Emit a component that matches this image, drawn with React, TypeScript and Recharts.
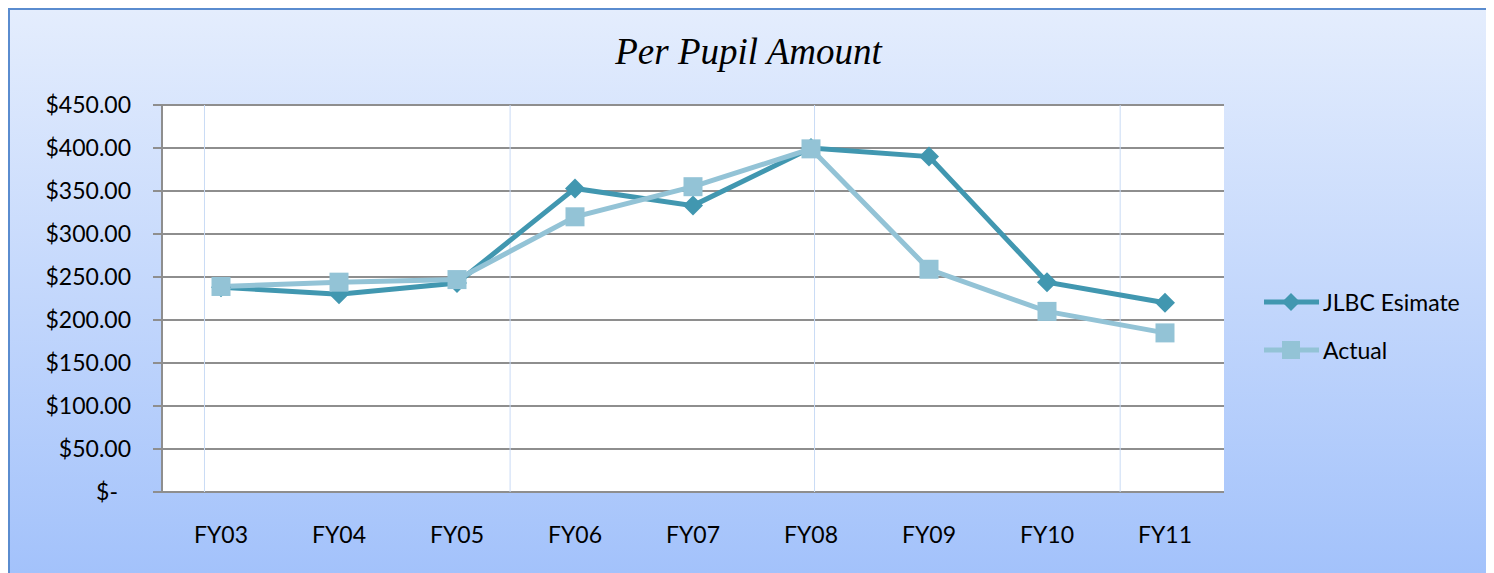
import { CartesianGrid, Legend, Line, LineChart, ReferenceLine, XAxis, YAxis } from 'recharts';

const years = ['FY03', 'FY04', 'FY05', 'FY06', 'FY07', 'FY08', 'FY09', 'FY10', 'FY11'];
const jlbcEstimate = [238, 230, 243, 353, 333, 400, 390, 244, 220];
const actual = [239, 244, 247, 320, 355, 399, 259, 210, 185];
const yTicks = [0, 50, 100, 150, 200, 250, 300, 350, 400, 450];
const edgeTicks = [0, 1, 2, 3, 4, 5, 6, 7, 8, 9];
const glossLines = [0.36, 2.95, 5.53, 8.12];

const DARK = '#4197b0';
const LIGHT = '#93c3d6';
const GRID = '#8e8e8e';
const LABEL_FONT = 'Lato, "Liberation Sans", sans-serif';

const rows = years.map((year, i) => ({ year, jlbc: jlbcEstimate[i], actual: actual[i] }));

const formatDollar = (v: number) => (v === 0 ? '$-' : `$${v.toFixed(2)}`);

function DiamondDot(props: any) {
  const { cx, cy, index } = props;
  if (cx == null || cy == null) return null;
  const s = 10;
  return (
    <polygon
      key={`d-${index}`}
      points={`${cx},${cy - s} ${cx + s},${cy} ${cx},${cy + s} ${cx - s},${cy}`}
      fill={DARK}
    />
  );
}

function SquareDot(props: any) {
  const { cx, cy, index } = props;
  if (cx == null || cy == null) return null;
  const s = 19;
  return <rect key={`s-${index}`} x={cx - s / 2} y={cy - s / 2} width={s} height={s} fill={LIGHT} />;
}

function YTick(props: any) {
  const { x, y, payload } = props;
  const v = payload.value as number;
  return (
    <text
      x={v === 0 ? x - 13 : x}
      y={y}
      dy='0.35em'
      textAnchor='end'
      fontFamily={LABEL_FONT}
      fontSize={23}
      fill='#000'
    >
      {formatDollar(v)}
    </text>
  );
}

function LegendBox() {
  const items = [
    { name: 'JLBC Esimate', color: DARK, shape: 'diamond' },
    { name: 'Actual', color: LIGHT, shape: 'square' },
  ];
  return (
    <div>
      {items.map((item) => (
        <div key={item.name} style={{ display: 'flex', alignItems: 'center', height: 48 }}>
          <svg width={58} height={24} style={{ marginRight: 2 }}>
            <line x1={1} y1={12} x2={56} y2={12} stroke={item.color} strokeWidth={5} />
            {item.shape === 'diamond' ? (
              <polygon points='28,3 37,12 28,21 19,12' fill={item.color} />
            ) : (
              <rect x={19} y={3} width={18} height={18} fill={item.color} />
            )}
          </svg>
          <span style={{ fontFamily: LABEL_FONT, fontSize: 23, color: '#000' }}>{item.name}</span>
        </div>
      ))}
    </div>
  );
}

export default function App() {
  return (
    <div
      style={{
        position: 'relative',
        width: 1481,
        height: 565,
        boxSizing: 'border-box',
        borderTop: '2px solid #5a8ccf',
        borderLeft: '2px solid #5a8ccf',
        borderRight: '2px solid #5a8ccf',
        background: 'linear-gradient(#e4edfd, #a3c2fb)',
      }}
    >
      <div
        style={{
          position: 'absolute',
          left: 0,
          top: 20,
          width: 1477,
          height: 44,
          lineHeight: '44px',
          textAlign: 'center',
          fontFamily: '"Liberation Serif", serif',
          fontStyle: 'italic',
          fontSize: 37,
          color: '#000',
        }}
      >
        Per Pupil Amount
      </div>
      <div style={{ position: 'absolute', left: 0, top: 0 }}>
        <LineChart width={1477} height={563} data={rows} margin={{ top: 95, right: 263, left: 40, bottom: 0 }}>
          <CartesianGrid
            vertical={false}
            horizontal
            fill='#ffffff'
            stroke={GRID}
            strokeWidth={2}
            strokeOpacity={1}
          />
          <XAxis
            xAxisId='edges'
            type='number'
            dataKey={(d: any) => years.indexOf(d.year) + 0.5}
            domain={[0, 9]}
            ticks={edgeTicks}
            height={0}
            tickSize={8}
            tickLine={{ stroke: GRID, strokeWidth: 2 }}
            axisLine={{ stroke: GRID, strokeWidth: 2 }}
            tickFormatter={() => ''}
            allowDataOverflow
          />
          <XAxis
            dataKey='year'
            height={81}
            padding={{ left: 59, right: 59 }}
            axisLine={false}
            tickLine={false}
            tickSize={0}
            tickMargin={35}
            interval={0}
            tick={{ fontFamily: LABEL_FONT, fontSize: 23, fill: '#000' }}
          />
          <YAxis
            width={112}
            domain={[0, 450]}
            ticks={yTicks}
            interval={0}
            tickSize={9}
            tickMargin={22}
            tickLine={{ stroke: GRID, strokeWidth: 2 }}
            axisLine={{ stroke: GRID, strokeWidth: 2 }}
            tick={<YTick />}
          />
          {glossLines.map((x) => (
            <ReferenceLine key={x} xAxisId='edges' x={x} stroke='#c9dbf5' strokeWidth={1} />
          ))}
          <Line
            dataKey='jlbc'
            name='JLBC Esimate'
            stroke={DARK}
            strokeWidth={5}
            dot={DiamondDot}
            activeDot={false}
            isAnimationActive={false}
          />
          <Line
            dataKey='actual'
            name='Actual'
            stroke={LIGHT}
            strokeWidth={5}
            dot={SquareDot}
            activeDot={false}
            isAnimationActive={false}
          />
          <Legend
            layout='vertical'
            align='center'
            verticalAlign='middle'
            content={<LegendBox />}
            wrapperStyle={{ position: 'absolute', left: 1253, top: 268, width: 220 }}
          />
        </LineChart>
      </div>
    </div>
  );
}
